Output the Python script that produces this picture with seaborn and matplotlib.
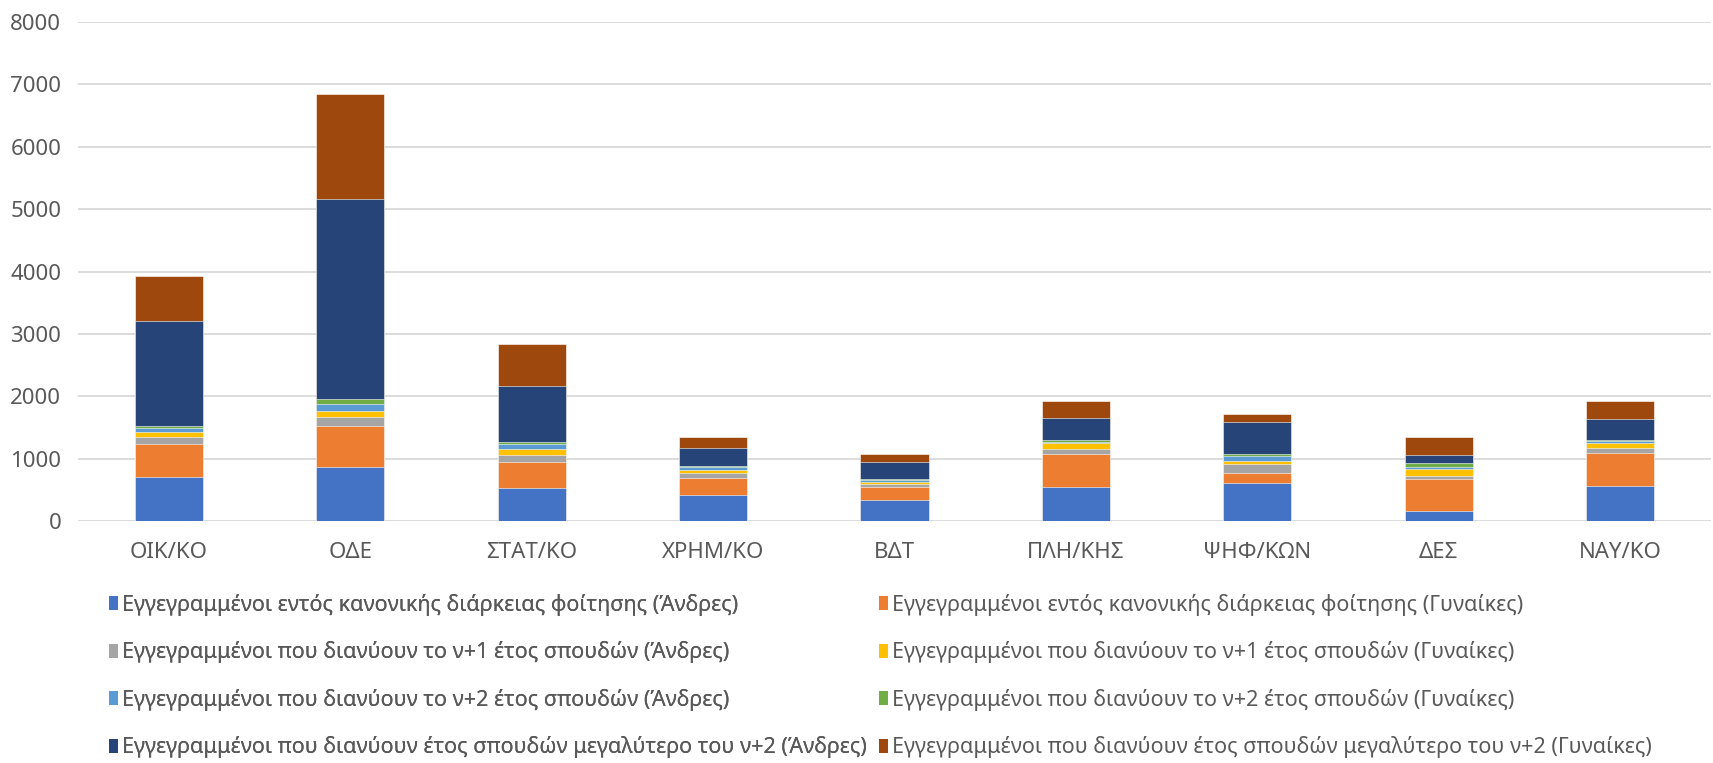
import numpy as np
import pandas as pd
import matplotlib
matplotlib.use("Agg")
import matplotlib.pyplot as plt
import seaborn as sns
from matplotlib.patches import Patch

# Data
categories = ["ΟΙΚ/ΚΟ", "ΟΔΕ", "ΣΤΑΤ/ΚΟ", "ΧΡΗΜ/ΚΟ", "ΒΔΤ", "ΠΛΗ/ΚΗΣ", "ΨΗΦ/ΚΩΝ", "ΔΕΣ", "ΝΑΥ/ΚΟ"]

men_normal = [704, 864, 526, 423, 337, 546, 615, 160, 556]
women_normal = [538, 664, 424, 273, 209, 536, 160, 519, 530]
men_n1 = [108, 143, 114, 70, 49, 80, 145, 48, 80]
women_n1 = [75, 97, 86, 54, 32, 81, 37, 107, 80]
men_n2 = [63, 109, 80, 42, 32, 26, 91, 32, 32]
women_n2 = [28, 80, 35, 27, 16, 27, 32, 59, 21]
men_over = [1689, 3210, 892, 289, 273, 348, 503, 128, 343]
women_over = [721, 1683, 681, 166, 123, 274, 134, 300, 278]

series_labels = [
    "Εγγεγραμμένοι εντός κανονικής διάρκειας φοίτησης (Άνδρες)",
    "Εγγεγραμμένοι εντός κανονικής διάρκειας φοίτησης (Γυναίκες)",
    "Εγγεγραμμένοι που διανύουν το ν+1 έτος σπουδών (Άνδρες)",
    "Εγγεγραμμένοι που διανύουν το ν+1 έτος σπουδών (Γυναίκες)",
    "Εγγεγραμμένοι που διανύουν το ν+2 έτος σπουδών (Άνδρες)",
    "Εγγεγραμμένοι που διανύουν το ν+2 έτος σπουδών (Γυναίκες)",
    "Εγγεγραμμένοι που διανύουν έτος σπουδών μεγαλύτερο του ν+2 (Άνδρες)",
    "Εγγεγραμμένοι που διανύουν έτος σπουδών μεγαλύτερο του ν+2 (Γυναίκες)",
]
series_values = [men_normal, women_normal, men_n1, women_n1,
                 men_n2, women_n2, men_over, women_over]
colors = ["#4472C4", "#ED7D31", "#A5A5A5", "#FFC000",
          "#5B9BD5", "#70AD47", "#264478", "#9E480E"]

# Build cumulative table for stacking
df = pd.DataFrame(dict(zip(series_labels, series_values)), index=categories)
cum = df.cumsum(axis=1)

sns.set_style("white")
plt.rcParams["font.family"] = ["Noto Sans", "DejaVu Sans"]
text_color = "#595959"
fs = 16
legend_fs = 15.5

fig = plt.figure(figsize=(17.13, 7.63), dpi=100)
ax = fig.add_axes([78 / 1713, 1 - 521 / 763, (1711 - 78) / 1713, (521 - 22) / 763])

# Draw from the top layer down so lower layers cover upper ones
for label, color in reversed(list(zip(series_labels, colors))):
    plot_df = pd.DataFrame({"Category": categories, "Value": cum[label].values})
    sns.barplot(data=plot_df, x="Category", y="Value", color=color,
                width=0.375, saturation=1, edgecolor="white", linewidth=0.4,
                ax=ax, zorder=3)

ax.set_ylim(0, 8000)
ax.set_xlim(-0.5, len(categories) - 0.5)
ax.set_yticks(np.arange(0, 8001, 1000))
ax.yaxis.grid(True, color="#D9D9D9", linewidth=1.3, zorder=0)
ax.set_axisbelow(True)
ax.set_xlabel("")
ax.set_ylabel("")
for s in ax.spines.values():
    s.set_visible(False)
ax.tick_params(axis="both", length=0, labelsize=fs, colors=text_color)
ax.tick_params(axis="y", pad=12)
ax.tick_params(axis="x", pad=15)

# Legend: two columns placed separately
handles = [Patch(facecolor=c, edgecolor="none") for c in colors]
legend_kw = dict(frameon=False, fontsize=legend_fs, labelcolor=text_color,
                 handlelength=0.42, handleheight=0.62, handletextpad=0.2,
                 labelspacing=1.18, borderpad=0, borderaxespad=0,
                 loc="upper left")
leg1 = fig.legend(handles[0::2], series_labels[0::2],
                  bbox_to_anchor=(109 / 1713, 1 - 594 / 763), **legend_kw)
fig.add_artist(leg1)
fig.legend(handles[1::2], series_labels[1::2],
           bbox_to_anchor=(879 / 1713, 1 - 594 / 763), **legend_kw)

fig.savefig("out.png", dpi=100)
